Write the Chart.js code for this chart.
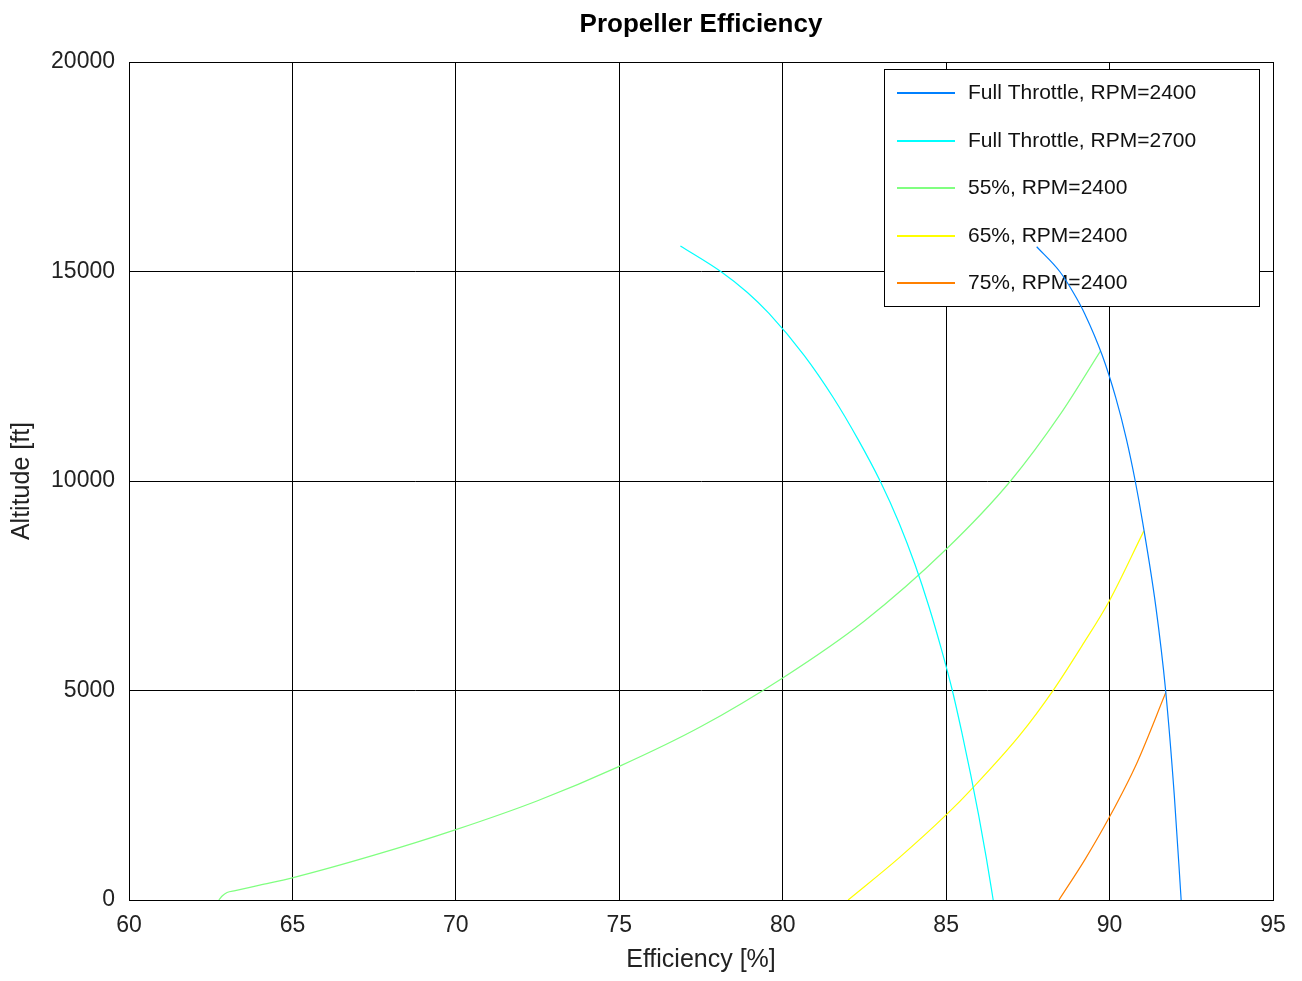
<!DOCTYPE html>
<html>
<head>
<meta charset="utf-8">
<script src="https://cdn.jsdelivr.net/npm/chart.js@4"></script>
<style>
  html, body { margin: 0; padding: 0; background: #fff; }
  #wrap { width: 1302px; height: 981px; }
</style>
</head>
<body>
<div id="wrap"><canvas id="chart" width="1302" height="981"></canvas></div>
<script>
// efficiency [%] / altitude [ft]
const ft2400Eff = [87.77, 88.475, 88.89, 89.235, 89.775, 90.185, 90.515, 90.785, 91.015, 91.415, 91.715, 91.98, 92.19];
const ft2400Alt = [15590, 15000, 14500, 14000, 13000, 12000, 11000, 10000, 9000, 7000, 5000, 2500, 0];

const ft2700Eff = [76.87, 78.105, 78.92, 79.58, 80.655, 81.54, 82.3, 82.98, 83.56, 84.05, 84.475, 84.85, 85.19, 85.48, 85.75, 86.0, 86.23, 86.44];
const ft2700Alt = [15610, 15000, 14500, 14000, 13000, 12000, 11000, 10000, 9000, 8000, 7000, 6000, 5000, 4000, 3000, 2000, 1000, 0];

const p55Eff = [62.75, 62.85, 63.0, 63.25, 64.0, 65.0, 67.5, 70.0, 72.5, 75.0, 77.5, 80.0, 82.5, 85.0, 86.97, 88.5, 89.72];
const p55Alt = [0, 95, 180, 225, 355, 530, 1070, 1680, 2370, 3190, 4140, 5300, 6660, 8370, 10000, 11600, 13100];

const p65Eff = [82.0, 83.55, 85.0, 85.83, 87.26, 88.28, 89.15, 90.0, 91.05];
const p65Alt = [0, 1000, 2030, 2690, 3940, 5010, 6060, 7150, 8810];

const p75Eff = [88.45, 89.25, 90.0, 90.83, 91.72];
const p75Alt = [0, 970, 1985, 3260, 4950];

const seriesNames = ['Full Throttle, RPM=2400', 'Full Throttle, RPM=2700', '55%, RPM=2400', '65%, RPM=2400', '75%, RPM=2400'];
const seriesColors = ['#0080ff', '#00ffff', '#80ff80', '#ffff00', '#ff8000'];

const xTicks = [60, 65, 70, 75, 80, 85, 90, 95];
const yTicks = [0, 5000, 10000, 15000, 20000];

function toPoints(xs, ys) {
    let pts = [];
    for (let i = 0; i < xs.length; i++)
        pts.push({x: xs[i], y: ys[i]});
    // keep ascending in x for the monotone spline
    pts.sort((a, b) => a.x - b.x);
    return pts;
}

const allEff = [ft2400Eff, ft2700Eff, p55Eff, p65Eff, p75Eff];
const allAlt = [ft2400Alt, ft2700Alt, p55Alt, p65Alt, p75Alt];

let datasets = [];
for (let i = 0; i < seriesNames.length; i++) {
    datasets.push({
        label: seriesNames[i],
        data: toPoints(allEff[i], allAlt[i]),
        borderColor: seriesColors[i],
        backgroundColor: seriesColors[i],
        borderWidth: 1.2,
        pointRadius: 0,
        showLine: true,
        cubicInterpolationMode: 'monotone',
        fill: false
    });
}

const font = 'Liberation Sans, Arial, Helvetica, sans-serif';

// title centred on the plot, legend box drawn under the curves, frame on top
const boxLegend = {
    id: 'boxLegend',
    beforeDatasetsDraw(chart) {
        const ctx = chart.ctx;
        const area = chart.chartArea;
        ctx.save();
        ctx.fillStyle = '#000';
        ctx.font = 'bold 26px ' + font;
        ctx.textAlign = 'center';
        ctx.textBaseline = 'middle';
        ctx.fillText('Propeller Efficiency', (area.left + area.right) / 2, 25);

        const right = area.right - 14;
        const top = area.top + 7;
        const left = right - 375;
        const h = 237;
        ctx.fillStyle = '#fff';
        ctx.fillRect(left, top, right - left, h);
        ctx.strokeStyle = '#000';
        ctx.lineWidth = 1;
        ctx.strokeRect(left + 0.5, top + 0.5, right - left, h);
        ctx.font = '21px ' + font;
        ctx.textAlign = 'left';
        for (let i = 0; i < seriesNames.length; i++) {
            const y = Math.round(top + 24 + i * 47.5);
            ctx.fillStyle = seriesColors[i];
            ctx.fillRect(left + 13, y - 1, 58, 2);
            ctx.fillStyle = '#111';
            ctx.fillText(seriesNames[i], left + 84, y);
        }
        ctx.restore();
    },
    afterDraw(chart) {
        const ctx = chart.ctx;
        const a = chart.chartArea;
        ctx.save();
        ctx.strokeStyle = '#000';
        ctx.lineWidth = 1;
        ctx.strokeRect(Math.round(a.left) + 0.5, Math.round(a.top) + 0.5,
            Math.round(a.right - a.left), Math.round(a.bottom - a.top));
        ctx.restore();
    }
};

const config = {
    type: 'scatter',
    data: { datasets: datasets },
    options: {
        responsive: false,
        animation: false,
        layout: { padding: { top: 62, right: 29, bottom: 0, left: 0 } },
        plugins: {
            legend: { display: false },
            tooltip: { enabled: false },
            title: { display: false }
        },
        scales: {
            x: {
                type: 'linear',
                min: 60,
                max: 95,
                afterBuildTicks(scale) { scale.ticks = xTicks.map(v => ({value: v})); },
                afterFit(scale) { scale.height = 81; },
                grid: { color: '#000', lineWidth: 1, drawTicks: false },
                border: { display: true, color: '#000' },
                ticks: { color: '#222', padding: 12, font: { family: font, size: 23 } },
                title: {
                    display: true,
                    text: 'Efficiency [%]',
                    color: '#222',
                    font: { family: font, size: 25 },
                    padding: { top: 0, bottom: 6 }
                }
            },
            y: {
                type: 'linear',
                min: 0,
                max: 20000,
                afterBuildTicks(scale) { scale.ticks = yTicks.map(v => ({value: v})); },
                afterFit(scale) { scale.width = 129; },
                grid: { color: '#000', lineWidth: 1, drawTicks: false },
                border: { display: true, color: '#000' },
                ticks: {
                    color: '#222',
                    padding: 14,
                    font: { family: font, size: 23 },
                    callback: v => String(v)
                },
                title: {
                    display: true,
                    text: 'Altitude [ft]',
                    color: '#222',
                    font: { family: font, size: 25 },
                    padding: { top: 7, bottom: 0 }
                }
            }
        }
    },
    plugins: [boxLegend]
};

let ctx = document.getElementById('chart').getContext('2d');
new Chart(ctx, config);
</script>
</body>
</html>
